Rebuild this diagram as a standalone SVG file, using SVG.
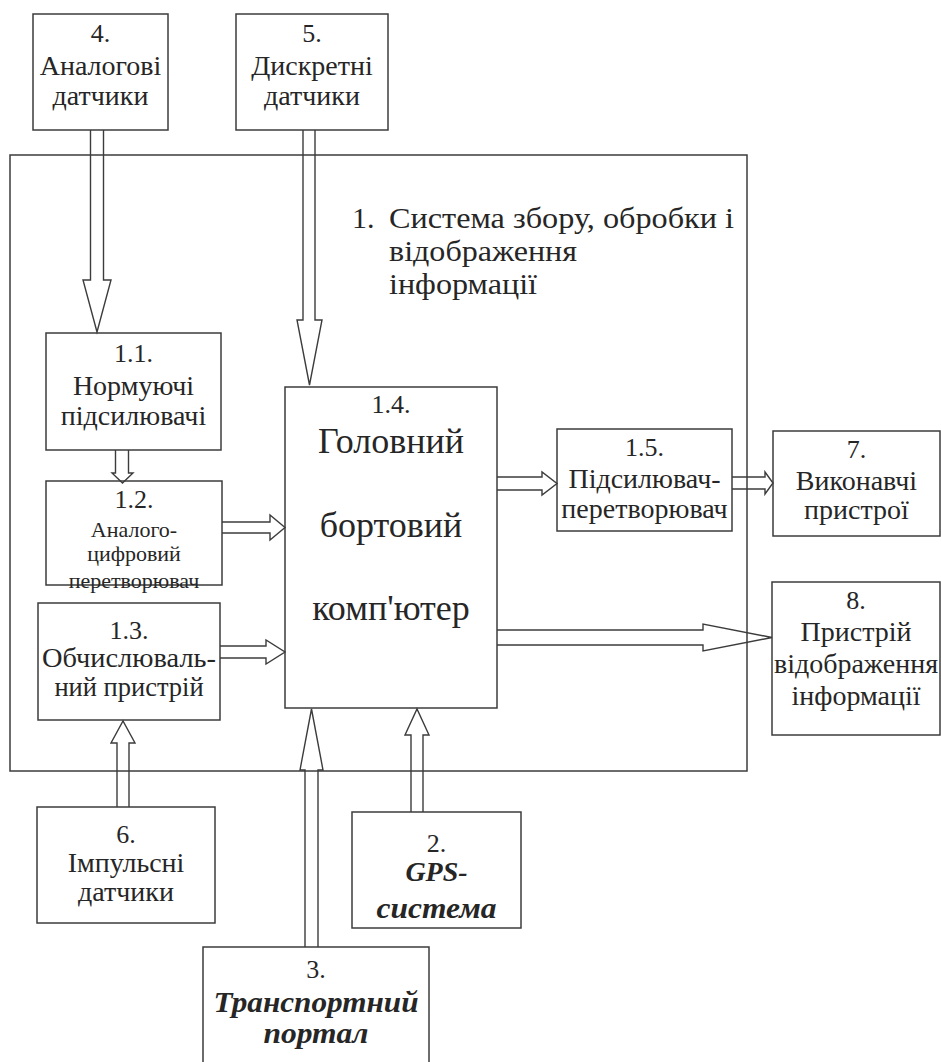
<svg xmlns="http://www.w3.org/2000/svg" width="941" height="1062" viewBox="0 0 941 1062">
<style>
.box{fill:none;stroke:#3c3c3c;stroke-width:1.5}
.arr{fill:none;stroke:#3c3c3c;stroke-width:1.4;stroke-linejoin:miter}
text{font-family:"Liberation Serif","Times New Roman",serif;fill:#262626;text-anchor:middle;font-size:28px}
.num{font-size:26px}
.sm{font-size:22px}
.big{font-size:36px}
.mid{font-size:26.5px}
.ttl{font-size:30px;text-anchor:start}
.bi{font-weight:bold;font-style:italic;font-size:29px}
.gps{font-size:28px}
</style>
<rect width="941" height="1062" fill="#ffffff"/>
<g id="n1">
<rect class="box" x="10" y="155" width="737" height="616"/>
<text class="ttl" x="352" y="228">1.</text>
<text class="ttl" x="389" y="228" textLength="345" lengthAdjust="spacingAndGlyphs">Система збору, обробки і</text>
<text class="ttl" x="389" y="261" textLength="188" lengthAdjust="spacingAndGlyphs">відображення</text>
<text class="ttl" x="389" y="294" textLength="148" lengthAdjust="spacingAndGlyphs">інформації</text>
</g>
<g id="n4">
<rect class="box" x="33" y="14" width="135" height="116"/>
<text class="num" x="100.5" y="42">4.</text>
<text x="100.5" y="75">Аналогові</text>
<text x="100.5" y="105">датчики</text>
</g>
<g id="n5">
<rect class="box" x="236" y="14" width="152" height="116"/>
<text class="num" x="312" y="42">5.</text>
<text x="312" y="75">Дискретні</text>
<text x="312" y="105">датчики</text>
</g>
<g id="n1_1">
<rect class="box" x="46" y="333" width="175" height="117"/>
<text class="num" x="133.5" y="362">1.1.</text>
<text x="133.5" y="395">Нормуючі</text>
<text x="133.5" y="425">підсилювачі</text>
</g>
<g id="n1_2">
<rect class="box" x="46" y="481" width="176" height="104"/>
<text class="num" x="134" y="508">1.2.</text>
<text class="sm" x="134" y="537">Аналого-</text>
<text class="sm" x="134" y="561">цифровий</text>
<text class="sm" x="134" y="588">перетворювач</text>
</g>
<g id="n1_3">
<rect class="box" x="38" y="603" width="182" height="117"/>
<text class="num" x="129" y="639">1.3.</text>
<text class="mid" x="129" y="667" textLength="174" lengthAdjust="spacingAndGlyphs">Обчислюваль-</text>
<text class="mid" x="129" y="696">ний пристрій</text>
</g>
<g id="n1_4">
<rect class="box" x="285" y="387" width="212" height="321"/>
<text class="num" x="391" y="413">1.4.</text>
<text class="big" x="391" y="453">Головний</text>
<text class="big" x="391" y="537">бортовий</text>
<text class="big" x="391" y="620">комп'ютер</text>
</g>
<g id="n1_5">
<rect class="box" x="557" y="429" width="175" height="102"/>
<text class="num" x="644.5" y="456">1.5.</text>
<text x="644.5" y="488">Підсилювач-</text>
<text x="644.5" y="518">перетворювач</text>
</g>
<g id="n7">
<rect class="box" x="773" y="431" width="167" height="105"/>
<text class="num" x="856.5" y="458">7.</text>
<text x="856.5" y="490">Виконавчі</text>
<text x="856.5" y="519">пристрої</text>
</g>
<g id="n8">
<rect class="box" x="772" y="582" width="168" height="153"/>
<text class="num" x="856" y="609">8.</text>
<text x="856" y="641">Пристрій</text>
<text x="856" y="673">відображення</text>
<text x="856" y="705">інформації</text>
</g>
<g id="n6">
<rect class="box" x="37" y="807" width="178" height="116"/>
<text class="num" x="126" y="843">6.</text>
<text x="126" y="872">Імпульсні</text>
<text x="126" y="901">датчики</text>
</g>
<g id="n2">
<rect class="box" x="352" y="812" width="169" height="116"/>
<text class="num" x="436.5" y="852">2.</text>
<text class="bi gps" x="436.5" y="881">GPS-</text>
<text class="bi" x="436.5" y="918" textLength="120" lengthAdjust="spacingAndGlyphs">система</text>
</g>
<g id="n3">
<rect class="box" x="203" y="947" width="226" height="130"/>
<text class="num" x="316" y="978">3.</text>
<text class="bi" x="316" y="1012" textLength="205" lengthAdjust="spacingAndGlyphs">Транспортний</text>
<text class="bi" x="316" y="1043" textLength="105" lengthAdjust="spacingAndGlyphs">портал</text>
</g>
<g id="connectors">
<path class="arr" d="M90.5,130 V280 H83 L97,332 L111,280 H103.5 V130"/>
<path class="arr" d="M303,130 V320 H297 L309.5,385 L322,320 H315 V130"/>
<path class="arr" d="M115.5,450 V473 H112 L122.5,483 L133,473 H128.5 V450"/>
<path class="arr" d="M222,522 H270 V515 L285,527.5 L270,540 V533 H222"/>
<path class="arr" d="M220,646 H266 V640 L285,652 L266,664 V658 H220"/>
<path class="arr" d="M497,477 H542 V472 L557,483.5 L542,495 V490 H497"/>
<path class="arr" d="M732,477 H765 V472 L773,483 L765,494 V489 H732"/>
<path class="arr" d="M497,630 H703 V624 L772,637.5 L703,651 V645 H497"/>
<path class="arr" d="M117,807 V743 H111 L123,721 L135,743 H129 V807"/>
<path class="arr" d="M305,947 V770 H300 L311.5,709 L323,770 H318 V947"/>
<path class="arr" d="M411,812 V735 H405 L417,709 L429,735 H423 V812"/>
</g>
</svg>
